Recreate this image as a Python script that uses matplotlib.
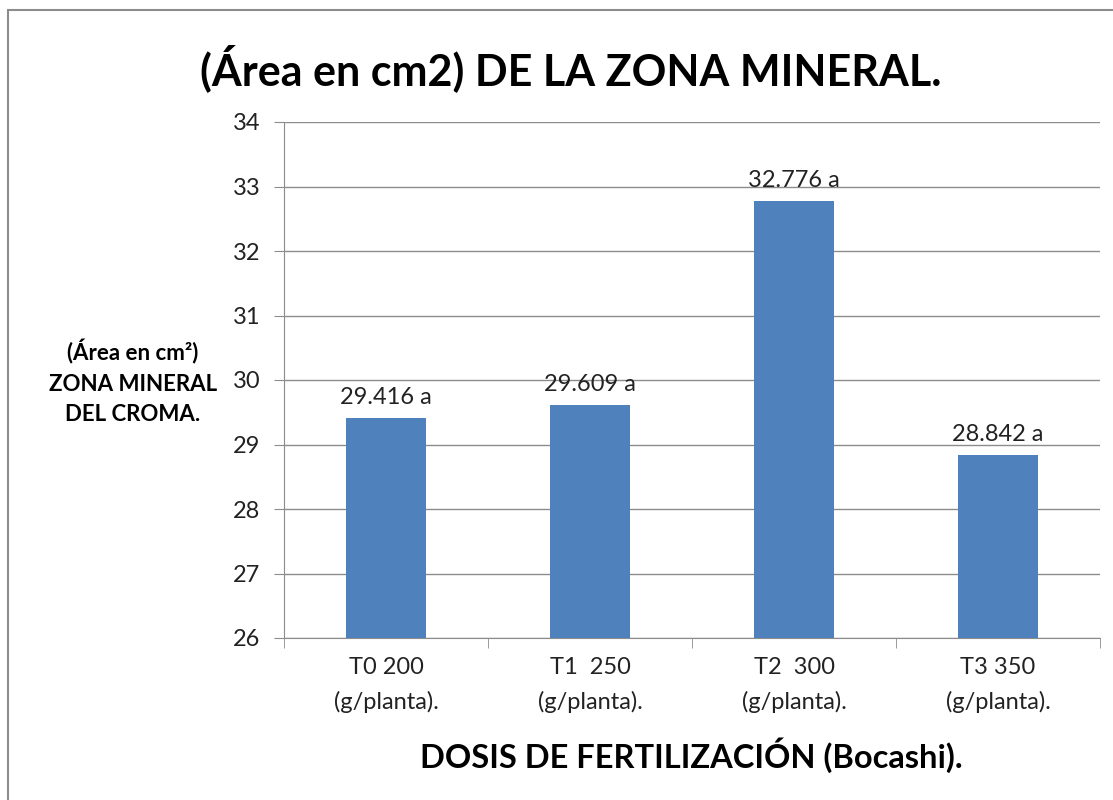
import matplotlib.pyplot as plt
import matplotlib.patches as patches
import numpy as np

plt.rcParams['font.family'] = ['Lato', 'DejaVu Sans']

categorias = ["T0 200\n(g/planta).", "T1  250\n(g/planta).",
              "T2  300\n(g/planta).", "T3 350\n(g/planta)."]
areas = [29.416, 29.609, 32.776, 28.842]
letras = ["a", "a", "a", "a"]

fig = plt.figure(figsize=(11.13, 8.0), dpi=100)
ax = fig.add_axes([284 / 1113, 1 - 638 / 800, (1100 - 284) / 1113, (638 - 122) / 800])

# marco gris de la figura
marco = patches.Rectangle((8 / 1113, -0.1), 1.2, 1 - 10 / 800 + 0.1,
                          transform=fig.transFigure, fill=False,
                          edgecolor="#8c8c8c", linewidth=1.5)
fig.patches.append(marco)

x = np.arange(len(categorias))
ax.bar(x, areas, width=0.39, color="#4F81BD", zorder=3)

for xi, v, l in zip(x, areas, letras):
    ax.annotate(f"{v:.3f} {l}", (xi, v), xytext=(0, 7), textcoords="offset points",
                ha="center", va="bottom", fontsize=17, color="#222222")

ax.set_ylim(26, 34)
ax.set_xlim(-0.5, len(categorias) - 0.5)
ax.set_yticks(np.arange(26, 35, 1))
ax.yaxis.grid(True, color="#8c8c8c", linewidth=1)
ax.set_axisbelow(True)

ax.set_xticks(x)
ax.set_xticklabels(categorias, fontsize=17, color="#222222", linespacing=1.7)
ax.set_xticks(np.arange(-0.5, len(categorias)), minor=True)
ax.tick_params(axis="x", which="major", length=0, pad=14)
ax.tick_params(axis="x", which="minor", length=7, color="#8c8c8c")
ax.tick_params(axis="y", length=7, color="#8c8c8c", labelsize=17,
               labelcolor="#222222", pad=10)

for s in ["top", "right"]:
    ax.spines[s].set_visible(False)
for s in ["left", "bottom"]:
    ax.spines[s].set_color("#8c8c8c")

fig.text(571 / 1113, 1 - 68 / 800, "(Área en cm2) DE LA ZONA MINERAL.",
         ha="center", va="center", fontsize=31, fontweight="bold")
fig.text(133 / 1113, 1 - 382 / 800, "(Área en cm²)\nZONA MINERAL\nDEL CROMA.",
         ha="center", va="center", fontsize=16, fontweight="bold", linespacing=1.55)
fig.text(691 / 1113, 1 - 755 / 800, "DOSIS DE FERTILIZACIÓN (Bocashi).",
         ha="center", va="center", fontsize=23.5, fontweight="bold")

fig.savefig("out.png", dpi=100)
